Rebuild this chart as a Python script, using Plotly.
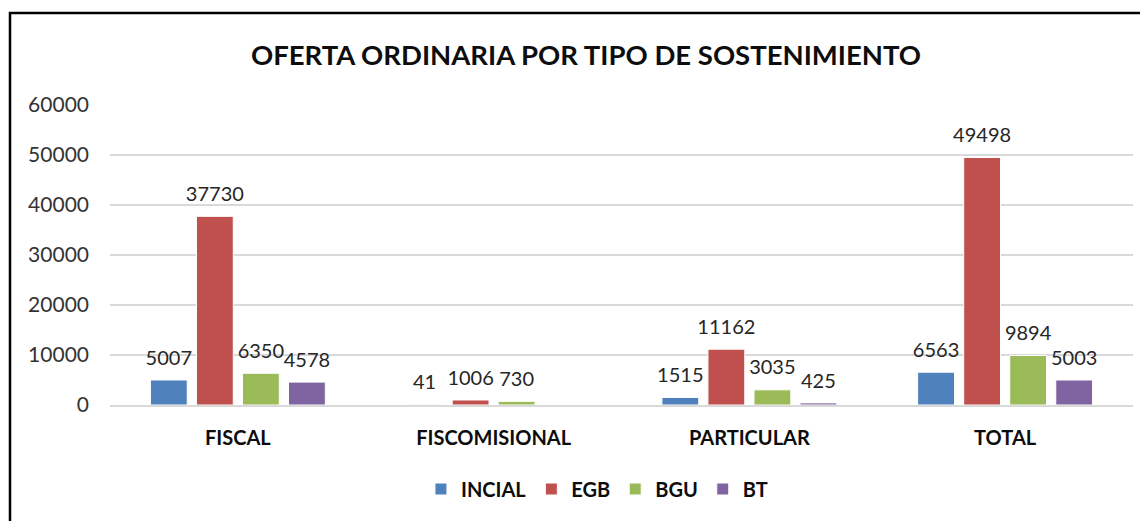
import plotly.graph_objects as go

categories = ["FISCAL", "FISCOMISIONAL", "PARTICULAR", "TOTAL"]
series_names = ["INCIAL", "EGB", "BGU", "BT"]
incial = [5007, 41, 1515, 6563]
egb = [37730, 1006, 11162, 49498]
bgu = [6350, 730, 3035, 9894]
bt = [4578, None, 425, 5003]
y_ticks = [0, 10000, 20000, 30000, 40000, 50000, 60000]

colors = ["#4F81BD", "#C0504D", "#9BBB59", "#8064A2"]
FONT = "Lato"

fig = go.Figure()
all_vals = [incial, egb, bgu, bt]
for name, vals, col in zip(series_names, all_vals, colors):
    fig.add_trace(go.Bar(
        name=name, x=categories, y=vals, offsetgroup=name,
        marker=dict(color=col, line=dict(width=1, color="white")),
    ))
for name, vals in zip(series_names, all_vals):
    fig.add_trace(go.Scatter(
        x=categories, y=vals, mode="markers+text", offsetgroup=name,
        text=[("" if v is None else str(v)) for v in vals],
        textposition="top center", cliponaxis=False, showlegend=False,
        marker=dict(size=15, opacity=0), hoverinfo="skip",
        textfont=dict(family=FONT, size=20, color="#262626"),
    ))

fig.update_layout(
    width=1140, height=513,
    margin=dict(l=102, r=15, t=97, b=116),
    paper_bgcolor="white", plot_bgcolor="white",
    barmode="group", bargap=0.28, bargroupgap=0.2,
    scattermode="group", scattergap=0.28,
    title=dict(text="<b>OFERTA ORDINARIA POR TIPO DE SOSTENIMIENTO</b>",
               x=0.507, xanchor="center", y=1 - 47 / 513, yanchor="middle",
               font=dict(family=FONT, size=27.5, color="#0d0d0d")),
    showlegend=True,
    legend=dict(orientation="h", x=0.476, xanchor="center", y=-0.28, yanchor="middle",
                font=dict(family=FONT, size=20, color="#0d0d0d", weight="bold"),
                itemwidth=30, traceorder="normal"),
    font=dict(family=FONT),
)
fig.update_yaxes(range=[0, 60000], tickvals=y_ticks, tickformat="d",
                 showgrid=True, gridcolor="#D9D9D9", gridwidth=1.5,
                 zeroline=False, showline=False, ticks="",
                 ticklabelstandoff=20,
                 tickfont=dict(family=FONT, size=21, color="#333333"))
fig.update_xaxes(showline=True, linecolor="#D9D9D9", linewidth=1.5, ticks="",
                 ticklabelstandoff=14,
                 tickfont=dict(family=FONT, size=20, color="#0d0d0d", weight="bold"))

fig.add_shape(type="rect", xref="paper", yref="paper",
              x0=-100 / 1023, x1=1.1, y0=-0.6, y1=392 / 300,
              line=dict(color="black", width=2.5), fillcolor="rgba(0,0,0,0)", layer="above")

fig.write_html("out.html")
